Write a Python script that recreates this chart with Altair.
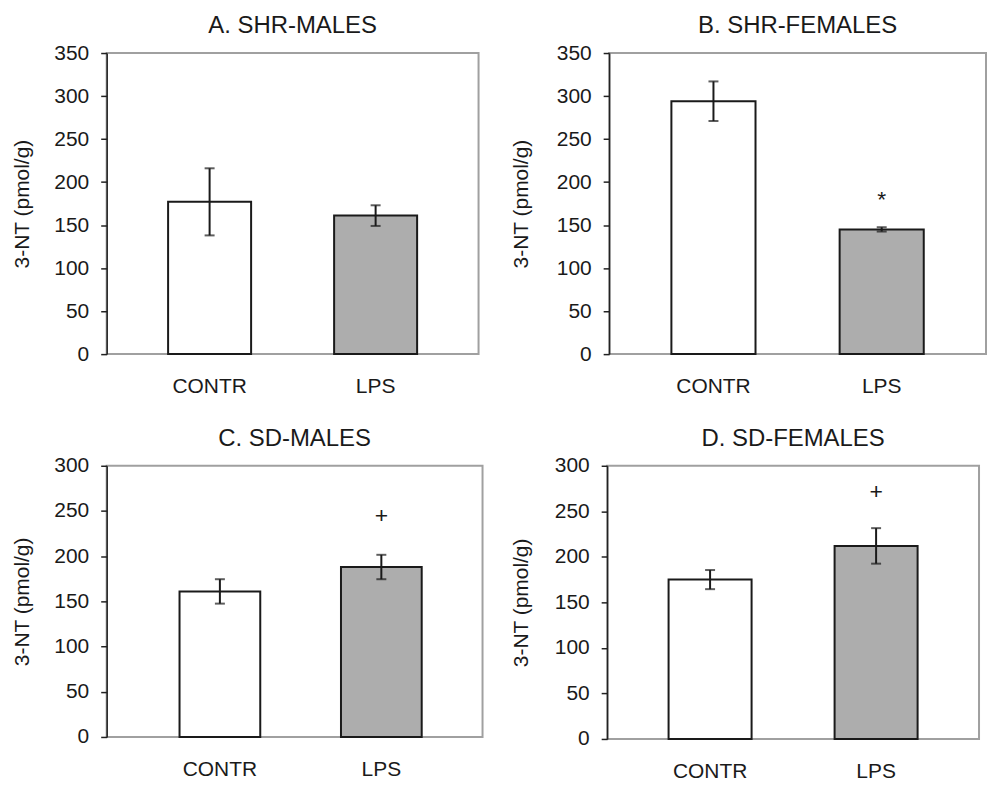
import altair as alt
import pandas as pd

categories = ["CONTR", "LPS"]
bar_fills = ["#ffffff", "#adadad"]

panel_titles = ["A. SHR-MALES", "B. SHR-FEMALES", "C. SD-MALES", "D. SD-FEMALES"]
panel_y_max = [350, 350, 300, 300]

a_means = [177, 161]
a_err = [39, 12]
b_means = [294, 145]
b_err = [23, 2.5]
c_means = [161, 188]
c_err = [13.5, 13.5]
d_means = [175, 212]
d_err = [10.5, 19.5]

# significance markers: (symbol, category, y position in data units)
a_marks = []
b_marks = [("*", "LPS", 179)]
c_marks = [("+", "LPS", 244)]
d_marks = [("+", "LPS", 271)]

FONT = "Liberation Sans"
YTITLE = "3-NT (pmol/g)"
INK = "#1a1a1a"


def panel(title, means, errs, ymax, marks, width, height, title_pad,
          pad_outer=0.37, band_align=0.5):
    df = pd.DataFrame({
        "cat": categories,
        "mean": means,
        "lo": [m - e for m, e in zip(means, errs)],
        "hi": [m + e for m, e in zip(means, errs)],
        "fill": bar_fills,
    })
    xenc = alt.X(
        "cat:N", sort=categories,
        scale=alt.Scale(paddingInner=0.5, paddingOuter=pad_outer, align=band_align),
        axis=alt.Axis(title=None, labelAngle=0, ticks=False, tickSize=0, domain=False,
                      labelPadding=22, labelFontSize=21, labelFont=FONT,
                      labelColor=INK),
    )
    yaxis = alt.Axis(
        title=YTITLE, values=list(range(0, ymax + 1, 50)), grid=False,
        domainColor="#222222", domainWidth=1.5, tickColor="#222222", tickWidth=1.5,
        tickSize=6, labelPadding=12, labelFontSize=21, labelFont=FONT,
        labelColor=INK, titleFont=FONT, titleFontSize=21,
        titleFontWeight="normal", titleColor=INK, titlePadding=title_pad,
    )
    yscale = alt.Scale(domain=[0, ymax], nice=False, zero=True)

    base = alt.Chart(df)
    bars = base.mark_bar(stroke=INK, strokeWidth=2).encode(
        x=xenc,
        y=alt.Y("mean:Q", scale=yscale, axis=yaxis),
        fill=alt.Fill("fill:N", scale=None),
    )
    err = base.mark_rule(color=INK, strokeWidth=2).encode(
        x=xenc,
        y=alt.Y("lo:Q", scale=yscale, axis=yaxis),
        y2="hi:Q",
    )
    cap_lo = base.mark_tick(color=INK, size=10, thickness=2).encode(
        x=xenc, y=alt.Y("lo:Q", scale=yscale, axis=yaxis)
    )
    cap_hi = base.mark_tick(color=INK, size=10, thickness=2).encode(
        x=xenc, y=alt.Y("hi:Q", scale=yscale, axis=yaxis)
    )
    layers = [bars, err, cap_lo, cap_hi]
    if marks:
        mdf = pd.DataFrame({
            "sym": [m[0] for m in marks],
            "cat": [m[1] for m in marks],
            "pos": [m[2] for m in marks],
        })
        txt = alt.Chart(mdf).mark_text(
            font=FONT, fontSize=23, color=INK, baseline="middle"
        ).encode(
            x=xenc,
            y=alt.Y("pos:Q", scale=yscale, axis=yaxis),
            text="sym:N",
        )
        layers.append(txt)
    return alt.layer(*layers).properties(
        width=width, height=height,
        title=alt.TitleParams(title, font=FONT, fontSize=24, fontWeight="normal",
                              color=INK, anchor="middle", frame="group",
                              offset=4),
    )


pa = panel(panel_titles[0], a_means, a_err, panel_y_max[0], a_marks, 373, 302, 21)
pb = panel(panel_titles[1], b_means, b_err, panel_y_max[1], b_marks, 378, 302, 25)
pc = panel(panel_titles[2], c_means, c_err, panel_y_max[2], c_marks, 377, 272, 21,
           pad_outer=0.414, band_align=0.545)
pd_ = panel(panel_titles[3], d_means, d_err, panel_y_max[3], d_marks, 373, 274, 23)

chart = alt.concat(
    pa, pb, pc, pd_, columns=2, align="none",
    spacing=alt.RowColnumber(row=28, column=25),
).properties(
    padding={"left": 10, "top": 12, "right": 0, "bottom": 0},
    background="white",
).configure_view(stroke="#a0a0a0", strokeWidth=2)

chart.save("out.html", embed_options={"renderer": "svg", "actions": False})
